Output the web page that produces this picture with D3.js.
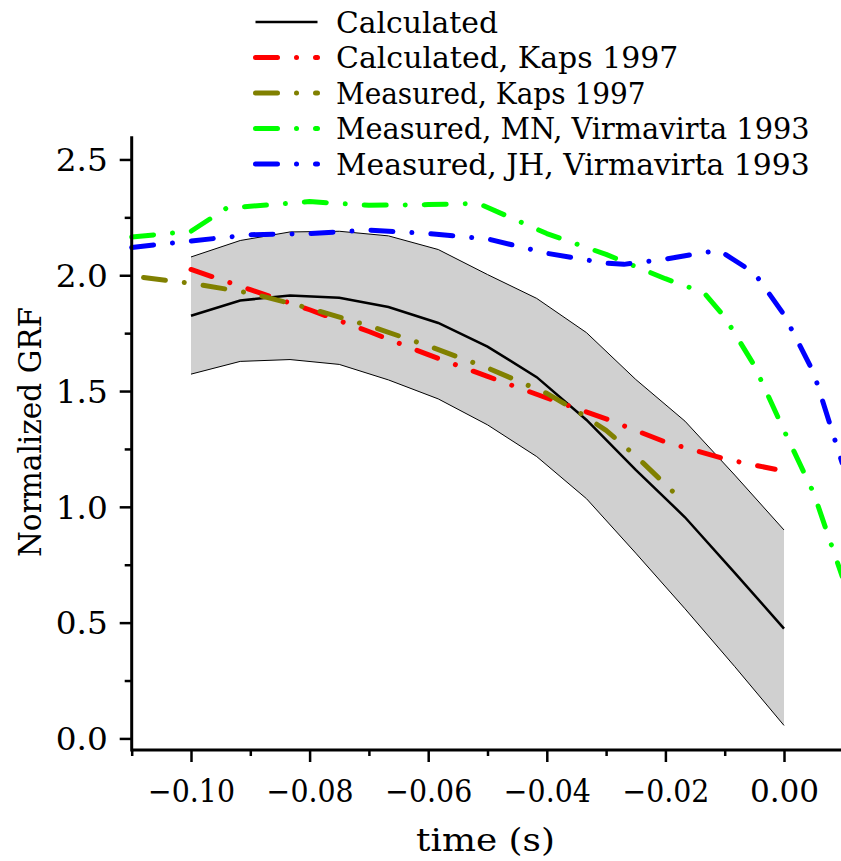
<!DOCTYPE html>
<html>
<head>
<meta charset="utf-8">
<script src="https://cdn.jsdelivr.net/npm/d3@7"></script>
<style>
  html, body { margin: 0; padding: 0; background: #fff; }
  svg { display: block; }
  text { font-family: "DejaVu Serif", serif; fill: #000; }
</style>
</head>
<body>
<svg id="chart" width="841" height="861"></svg>
<script>
// calculated GRF: mean and band, sampled every 1/120 s
const calcTime = [-0.1, -0.0917, -0.0833, -0.075, -0.0667, -0.0583, -0.05, -0.0417, -0.0333, -0.025, -0.0167, -0.0083, 0];
const calcMean = [1.825, 1.891, 1.913, 1.903, 1.863, 1.794, 1.692, 1.56, 1.375, 1.16, 0.955, 0.715, 0.474];
const calcUpper = [2.079, 2.15, 2.187, 2.19, 2.17, 2.111, 2.003, 1.9, 1.752, 1.55, 1.37, 1.137, 0.9];
const calcLower = [1.573, 1.628, 1.636, 1.615, 1.548, 1.466, 1.354, 1.217, 1.035, 0.8, 0.56, 0.31, 0.056];

const kapsCalcTime = [-0.1, -0.09, -0.08, -0.07, -0.06, -0.05, -0.04, -0.03, -0.02, -0.01, -0.0015];
const kapsCalcValue = [2.025, 1.938, 1.851, 1.757, 1.657, 1.563, 1.47, 1.38, 1.28, 1.207, 1.162];

const kapsMeasTime = [-0.108, -0.1, -0.09, -0.08, -0.07, -0.06, -0.05, -0.04, -0.035, -0.03, -0.025, -0.0185];
const kapsMeasValue = [1.99, 1.965, 1.923, 1.857, 1.782, 1.695, 1.6, 1.49, 1.415, 1.33, 1.22, 1.06];

const mnTime = [-0.11, -0.1, -0.094, -0.08, -0.07, -0.06, -0.0515, -0.04, -0.03, -0.02, -0.0135, -0.01, -0.005, 0, 0.005, 0.0098];
const mnValue = [2.165, 2.19, 2.29, 2.318, 2.302, 2.305, 2.31, 2.18, 2.09, 1.985, 1.925, 1.82, 1.61, 1.33, 1.06, 0.7];

const jhTime = [-0.11, -0.1, -0.09, -0.08, -0.07, -0.06, -0.05, -0.04, -0.03, -0.027, -0.02, -0.011, -0.005, 0, 0.005, 0.0098];
const jhValue = [2.12, 2.148, 2.175, 2.18, 2.195, 2.18, 2.157, 2.095, 2.052, 2.047, 2.07, 2.108, 2.01, 1.83, 1.58, 1.19];

const xTicks = [-0.1, -0.08, -0.06, -0.04, -0.02, 0];
const xMinorTicks = [-0.11, -0.09, -0.07, -0.05, -0.03, -0.01];
const yTicks = [0, 0.5, 1, 1.5, 2, 2.5];
const yMinorTicks = [0.25, 0.75, 1.25, 1.75, 2.25];

const legendLabels = [
  "Calculated",
  "Calculated, Kaps 1997",
  "Measured, Kaps 1997",
  "Measured, MN, Virmavirta 1993",
  "Measured, JH, Virmavirta 1993",
];
const legendColors = ["#000000", "#ff0000", "#808000", "#00ff00", "#0000ff"];

const dashDot = "22 19 0.01 19";

const svg = d3.select("#chart");
const x = d3.scaleLinear().domain([-0.11, 0.01]).range([131.7, 843.3]);
const y = d3.scaleLinear().domain([-0.05, 2.6]).range([750, 136.3]);

const zip = (ts, vs) => ts.map((t, i) => ({ t, v: vs[i] }));
const line = d3.line().x((d) => x(d.t)).y((d) => y(d.v));

// monospace-like look: stretch each string to a fixed advance per char
function fit(sel, advance) {
  sel.each(function () {
    const n = this.textContent.length;
    d3.select(this)
      .attr("textLength", n * advance - 2)
      .attr("lengthAdjust", "spacingAndGlyphs");
  });
}

// shaded band between upper and lower calculated curves
const band = calcTime.map((t, i) => ({ t, lo: calcLower[i], hi: calcUpper[i] }));
svg.append("path")
  .datum(band)
  .attr("fill", "#d0d0d0")
  .attr("d", d3.area().x((d) => x(d.t)).y0((d) => y(d.lo)).y1((d) => y(d.hi)));

[calcUpper, calcLower].forEach((vals) => {
  svg.append("path")
    .datum(zip(calcTime, vals))
    .attr("fill", "none")
    .attr("stroke", "#000")
    .attr("stroke-width", 1)
    .attr("d", line);
});

svg.append("path")
  .datum(zip(calcTime, calcMean))
  .attr("fill", "none")
  .attr("stroke", "#000")
  .attr("stroke-width", 2.5)
  .attr("d", line);

const dashedSeries = [
  { data: zip(kapsCalcTime, kapsCalcValue), color: legendColors[1] },
  { data: zip(kapsMeasTime, kapsMeasValue), color: legendColors[2] },
  { data: zip(mnTime, mnValue), color: legendColors[3] },
  { data: zip(jhTime, jhValue), color: legendColors[4] },
];

dashedSeries.forEach((s) => {
  svg.append("path")
    .datum(s.data)
    .attr("fill", "none")
    .attr("stroke", s.color)
    .attr("stroke-width", 5)
    .attr("stroke-linecap", "round")
    .attr("stroke-linejoin", "round")
    .attr("stroke-dasharray", dashDot)
    .attr("d", line);
});

// axes
const xMinor = svg.append("g").attr("transform", "translate(0,750)")
  .call(d3.axisBottom(x).tickValues(xMinorTicks).tickSize(6).tickSizeOuter(0).tickFormat(""));
xMinor.select(".domain").remove();
const xMajor = svg.append("g").attr("transform", "translate(0,750)")
  .call(d3.axisBottom(x).tickValues(xTicks).tickSize(12).tickSizeOuter(0).tickFormat(d3.format(".2f")));
xMajor.select(".domain").remove();
xMajor.selectAll(".tick text")
  .attr("y", 52)
  .attr("dy", null)
  .attr("font-size", 31)
  .call(fit, 17.8);

const yMinor = svg.append("g").attr("transform", "translate(131.7,0)")
  .call(d3.axisLeft(y).tickValues(yMinorTicks).tickSize(7).tickSizeOuter(0).tickFormat(""));
yMinor.select(".domain").remove();
const yMajor = svg.append("g").attr("transform", "translate(131.7,0)")
  .call(d3.axisLeft(y).tickValues(yTicks).tickSize(12).tickSizeOuter(0).tickFormat(d3.format(".1f")));
yMajor.select(".domain").remove();
yMajor.selectAll(".tick text")
  .attr("x", -24)
  .attr("dy", "0.36em")
  .attr("font-size", 31)
  .call(fit, 18);

svg.selectAll(".tick line").attr("stroke", "#000").attr("stroke-width", 2.5);

svg.append("line")
  .attr("x1", 131.7).attr("x2", 841)
  .attr("y1", 750).attr("y2", 750)
  .attr("stroke", "#000").attr("stroke-width", 3);
svg.append("line")
  .attr("x1", 131.7).attr("x2", 131.7)
  .attr("y1", y(2.6)).attr("y2", 751.5)
  .attr("stroke", "#000").attr("stroke-width", 3);

// axis titles
svg.append("text")
  .attr("x", 485.5).attr("y", 851)
  .attr("text-anchor", "middle")
  .attr("font-size", 31)
  .text("time (s)")
  .call(fit, 17.6);

svg.append("text")
  .attr("transform", "translate(41,432) rotate(-90)")
  .attr("text-anchor", "middle")
  .attr("font-size", 32)
  .text("Normalized GRF")
  .call(fit, 18);

// legend
const legend = svg.append("g");
legendLabels.forEach((label, i) => {
  const cy = 22 + i * 35.5;
  legend.append("line")
    .attr("x1", 255.5).attr("x2", 317.5)
    .attr("y1", cy).attr("y2", cy)
    .attr("stroke", legendColors[i])
    .attr("stroke-width", i === 0 ? 2.5 : 5)
    .attr("stroke-linecap", i === 0 ? "butt" : "round")
    .attr("stroke-dasharray", i === 0 ? null : dashDot);
  legend.append("text")
    .attr("x", 336).attr("y", cy + 10.5)
    .attr("font-size", 30)
    .text(label)
    .call(fit, 16.4);
});
</script>
</body>
</html>
